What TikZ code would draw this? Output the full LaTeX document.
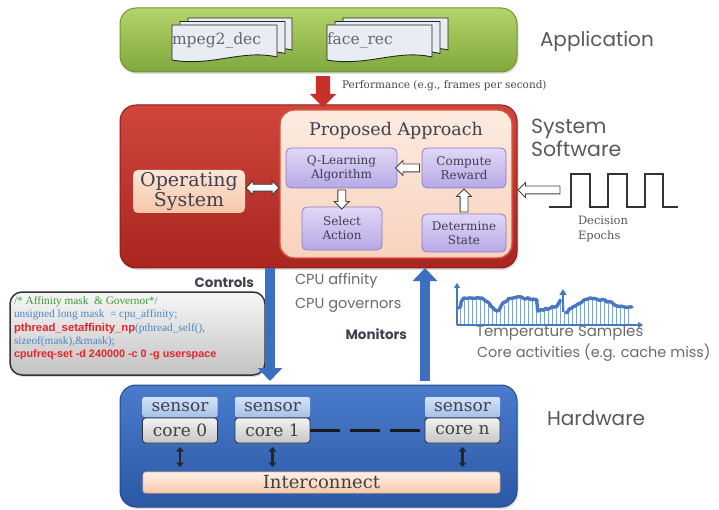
\documentclass[tikz,border=0pt]{standalone}
\usepackage{fontspec}
\setmainfont{DejaVu Serif}
\newfontfamily\gothic{Poppins}
\newfontfamily\codeserif{Liberation Serif}
\newfontfamily\codesans{Liberation Sans}
\usetikzlibrary{shapes.arrows,arrows.meta,calc,shadows,decorations.pathmorphing}

\definecolor{greenTop}{HTML}{B4D46C}
\definecolor{greenBot}{HTML}{7FA83C}
\definecolor{greenLine}{HTML}{6F9632}
\definecolor{redTop}{HTML}{D0463C}
\definecolor{redBot}{HTML}{A92520}
\definecolor{redLine}{HTML}{8E1E1A}
\definecolor{peachTop}{HTML}{FDEBE0}
\definecolor{peachBot}{HTML}{F8D2BD}
\definecolor{peachLine}{HTML}{D9533E}
\definecolor{lilacTop}{HTML}{E0D8F7}
\definecolor{lilacBot}{HTML}{B7A8E6}
\definecolor{lilacLine}{HTML}{8B7CC6}
\definecolor{osTop}{HTML}{FDE6D6}
\definecolor{osBot}{HTML}{F6C6A9}
\definecolor{hwTop}{HTML}{4A7CCC}
\definecolor{hwBot}{HTML}{2A58A4}
\definecolor{hwLine}{HTML}{27498A}
\definecolor{sensTop}{HTML}{D3E3F6}
\definecolor{sensBot}{HTML}{A7C1E6}
\definecolor{coreTop}{HTML}{F2F2F2}
\definecolor{coreBot}{HTML}{C6C6C6}
\definecolor{interTop}{HTML}{FFF1E8}
\definecolor{interBot}{HTML}{F7C9A8}
\definecolor{interLine}{HTML}{F2B48E}
\definecolor{codeTop}{HTML}{F7F7F7}
\definecolor{codeBot}{HTML}{C2C2C2}
\definecolor{labelGray}{HTML}{595959}
\definecolor{darkText}{HTML}{404050}
\definecolor{arrowBlue}{HTML}{3D6FC0}
\definecolor{chartBlue}{HTML}{4A78C0}
\definecolor{barBlue}{HTML}{7EA3D8}
\definecolor{arrowRed}{HTML}{C8302A}
\definecolor{codeGreen}{HTML}{3C9A3C}
\definecolor{codeBlue}{HTML}{4A86C8}
\definecolor{codeRed}{HTML}{E8242A}
\definecolor{sheetFill}{HTML}{E9ECF2}

% one page of a stacked document icon: left, top, right, bottom
\newcommand\pagesheet[4]{%
  \filldraw[docsheet] (#1,#2) -- (#3,#2) -- (#3,#4-3)
    .. controls (#3-35,#4-11) and (#1+40,#4+7) .. (#1,#4) -- cycle;}

\begin{document}
\begin{tikzpicture}[x=1pt,y=-1pt,
  every node/.style={inner sep=0pt, outer sep=0pt},
  softshadow/.style={drop shadow={opacity=0.25, shadow xshift=1.5pt, shadow yshift=-2pt}},
  layer/.style={rounded corners=16pt, line width=1pt, softshadow},
  docsheet/.style={fill=sheetFill, draw=black!85, line width=0.9pt},
  docname/.style={font=\fontsize{15.5}{18}\selectfont, text=darkText!80, anchor=west},
  lilac/.style={rounded corners=5pt, top color=lilacTop, bottom color=lilacBot,
    draw=lilacLine, line width=0.8pt, align=center, text=darkText,
    font=\fontsize{12}{14}\selectfont},
  hollow/.style={single arrow, draw=black!75, fill=white, line width=0.8pt,
    inner sep=3.5pt, single arrow head extend=3.5pt, single arrow head indent=0pt},
  hollowtwin/.style={double arrow, draw=black!75, fill=white, line width=0.8pt,
    inner sep=3pt, double arrow head extend=3.5pt},
  sensorbox/.style={rounded corners=2pt, top color=sensTop, bottom color=sensBot,
    minimum width=75pt, minimum height=20pt, text=darkText,
    font=\fontsize{17}{18}\selectfont},
  corebox/.style={rounded corners=3pt, top color=coreTop, bottom color=coreBot,
    draw=black!80, line width=0.9pt, minimum width=75pt, minimum height=25pt,
    text=black!75, font=\fontsize{17}{18}\selectfont},
  biglabel/.style={font=\gothic\fontsize{20}{23}\selectfont, text=labelGray, anchor=west},
  midlabel/.style={font=\gothic\fontsize{14.5}{17}\selectfont, text=labelGray!90, anchor=west},
  boldlabel/.style={font=\gothic\bfseries\fontsize{13.5}{16}\selectfont, text=darkText, anchor=east},
  bluearrow/.style={line width=10pt, arrowBlue, -{Triangle[width=24pt,length=13pt]}},
  linkarrow/.style={line width=2.6pt, black!85,
    {Triangle[width=7.5pt,length=4.5pt]}-{Triangle[width=7.5pt,length=4.5pt]},
    shorten <=4pt, shorten >=5pt},
  samplecurve/.style={chartBlue, line width=3.4pt, line join=round, line cap=round,
    decorate, decoration={random steps, segment length=2.5pt, amplitude=1pt}}
]
\useasboundingbox (0,0) rectangle (719,510);

% ---------------- application layer ----------------
\node[layer, top color=greenTop, bottom color=greenBot, draw=greenLine,
      minimum width=397pt, minimum height=64pt] (app) at (318.5,40) {};
\pagesheet{188}{18}{292}{53}
\pagesheet{180}{21.5}{285}{56.5}
\pagesheet{172}{25}{277}{60}
\node[docname] (mpeg) at (172,40) {mpeg2\_dec};
\pagesheet{343}{18}{448}{53}
\pagesheet{335}{21.5}{440}{56.5}
\pagesheet{327}{25}{432}{60}
\node[docname] (face) at (327,40) {face\_rec};
\node[biglabel] (applbl) at (540,41) {Application};

% ---------------- system software layer ----------------
\node[layer, top color=redTop, bottom color=redBot, draw=redLine,
      minimum width=397pt, minimum height=163pt] (sys) at (318.5,186.5) {};

\node[single arrow, fill=arrowRed, inner sep=7pt, single arrow head extend=6pt,
      single arrow head indent=0pt, shape border rotate=270,
      minimum height=31pt] (perfarrow) at (323,88) {};
\node[anchor=west, font=\fontsize{10.5}{12}\selectfont, text=labelGray!80!black] (perf)
  at (342,86) {Performance (e.g., frames per second)};

\node[rounded corners=14pt, top color=peachTop, bottom color=peachBot,
      draw=peachLine, line width=1.4pt,
      minimum width=232pt, minimum height=148pt] (pa) at (396,184) {};
\node[font=\fontsize{17.5}{20}\selectfont, text=darkText] (patitle) at (396,131)
  {Proposed Approach};

\node[lilac, minimum width=111pt, minimum height=40pt] (ql) at (341.5,168)
  {Q-Learning\\Algorithm};
\node[lilac, minimum width=84pt, minimum height=40pt] (cr) at (464,168)
  {Compute\\Reward};
\node[lilac, minimum width=80pt, minimum height=43pt] (sa) at (342,228.5)
  {Select\\Action};
\node[lilac, minimum width=84pt, minimum height=38pt] (ds) at (464,233)
  {Determine\\State};

\node[rounded corners=5pt, top color=osTop, bottom color=osBot,
      minimum width=112pt, minimum height=43pt, align=center,
      font=\fontsize{19}{20}\selectfont, text=darkText] (os) at (189,191.5)
  {Operating\\System};

% hollow arrows inside the software layer
\node[hollowtwin, minimum height=33pt] at ($(os.east)!0.5!(pa.west)$) {};
\node[hollow, shape border rotate=180, minimum height=24pt]
  at ($(cr.west)!0.5!(ql.east)$) {};
\node[hollow, shape border rotate=270, minimum height=19pt]
  at ($(ql.south)!0.5!(sa.north)$) {};
\node[hollow, shape border rotate=90, minimum height=23pt]
  at (464,202.5) {};

% decision epochs pulse train
\node[biglabel, align=left, anchor=north west, font=\gothic\fontsize{20.5}{23}\selectfont]
  (swlbl) at (531,119) {System\\Software};
\coordinate (pulse0) at (549,207);
\draw[black!80, line width=1.3pt] (pulse0) -- (571,207) -- (571,174) -- (590,174)
  -- (590,207) -- (608,207) -- (608,174) -- (627,174) -- (627,207) -- (645,207)
  -- (645,174) -- (663,174) -- (663,207) -- (678,207);
\node[hollow, shape border rotate=180, minimum height=42pt] (epocharrow)
  at (541,190) {};
\node[anchor=north west, align=left, font=\fontsize{11.5}{15}\selectfont,
      text=labelGray] (epochs) at (578,216) {Decision\\Epochs};

% ---------------- between the layers ----------------
\coordinate (ctrlx) at (270,0);
\coordinate (monx) at (425,0);
\node[boldlabel] (ctrl) at (254,283) {Controls};
\node[midlabel] (aff) at (295,281) {CPU affinity};
\node[midlabel] (gov) at (295,305) {CPU governors};
\node[boldlabel] (mon) at (407,334) {Monitors};

\node[rounded corners=12pt, top color=codeTop, bottom color=codeBot,
      draw=black!80, line width=1.5pt, softshadow,
      minimum width=255pt, minimum height=83pt] (code) at (137.5,333.5) {};
\node[anchor=north west, align=left, font=\codeserif\fontsize{11.3}{13.3}\selectfont]
  (codetext) at (14,296.5) {%
  \textcolor{codeGreen}{/* Affinity mask \ \& Governor*/}\\
  \textcolor{codeBlue}{unsigned long mask \ = cpu\_affinity;}\\
  \textcolor{codeRed}{\codesans\bfseries pthread\_setaffinity\_np}\textcolor{codeBlue}{(pthread\_self(),}\\
  \textcolor{codeBlue}{sizeof(mask),\&mask);}\\
  \textcolor{codeRed}{\codesans\bfseries\fontsize{10.8}{13.3}\selectfont cpufreq-set -d 240000 -c 0 -g userspace}};

% temperature samples chart
\coordinate (origin) at (457,325);
\begin{scope}
  \clip (459,325) -- (459,308) -- (465,300) -- (470,298) -- (482,298) -- (490,305)
    -- (497,312) -- (507,303) -- (517,297) -- (527,298) -- (537,300) -- (538,312)
    -- (547,310) -- (557,307) -- (563,294) -- (565,314) -- (575,306) -- (590,298)
    -- (600,300) -- (617,307) -- (632,307) -- (632,325) -- cycle;
  \foreach \bx in {460,464,...,632}
    \draw[barBlue, line width=0.9pt] (\bx,325) -- (\bx,290);
\end{scope}
\draw[samplecurve]
  (459,308) .. controls (462,300) .. (470,298) -- (482,298)
  .. controls (490,304) .. (497,311) .. controls (505,300) .. (517,297)
  -- (537,300) -- (538,311) -- (557,306) -- (560,300);
\draw[samplecurve]
  (566,313) .. controls (575,305) .. (590,298) .. controls (605,300) .. (617,306)
  -- (632,307);
\draw[chartBlue, line width=1.4pt, -{Triangle[width=7pt,length=6pt]}]
  (563,312) -- (563,289);
\draw[chartBlue, line width=1.2pt, -{Triangle[width=6pt,length=5pt]}]
  (origin) -- (457,283);
\draw[chartBlue, line width=1.2pt, -{Triangle[width=6pt,length=5pt]}]
  (origin) -- (643,325);
\node[midlabel, font=\gothic\fontsize{15}{17}\selectfont] (temp) at (476,333)
  {Temperature Samples};
\node[midlabel] (coreact) at (477,353) {Core activities (e.g. cache miss)};

% ---------------- hardware layer ----------------
\node[layer, top color=hwTop, bottom color=hwBot, draw=hwLine,
      minimum width=397pt, minimum height=122pt] (hw) at (318.5,446) {};
\node[biglabel] (hwlbl) at (547,418) {Hardware};

\node[sensorbox] (s0) at (180,407) {sensor};
\node[corebox] (c0) at (180,430.5) {core 0};
\node[sensorbox] (s1) at (272.5,407) {sensor};
\node[corebox] (c1) at (272.5,430.5) {core 1};
\node[sensorbox] (sn) at (462.5,407) {sensor};
\node[corebox] (cn) at (462.5,430.5) {core n};
\draw[black!90, line width=2.6pt, dash pattern=on 30pt off 10pt] (c1.east) -- (cn.west);

\node[rounded corners=3pt, top color=interTop, bottom color=interBot,
      draw=interLine, line width=0.8pt, minimum width=357pt, minimum height=21pt,
      font=\fontsize{18}{20}\selectfont, text=black!75] (ic) at (321.5,482.5)
  {Interconnect};
\draw[linkarrow] (c0.south) -- (c0.south |- ic.north);
\draw[linkarrow] (c1.south) -- (c1.south |- ic.north);
\draw[linkarrow] (cn.south) -- (cn.south |- ic.north);

% controls and monitors
\draw[bluearrow, shorten >=4pt] (sys.south -| ctrlx) -- (hw.north -| ctrlx);
\draw[bluearrow, shorten <=4pt] (hw.north -| monx) -- (sys.south -| monx);
\end{tikzpicture}
\end{document}
